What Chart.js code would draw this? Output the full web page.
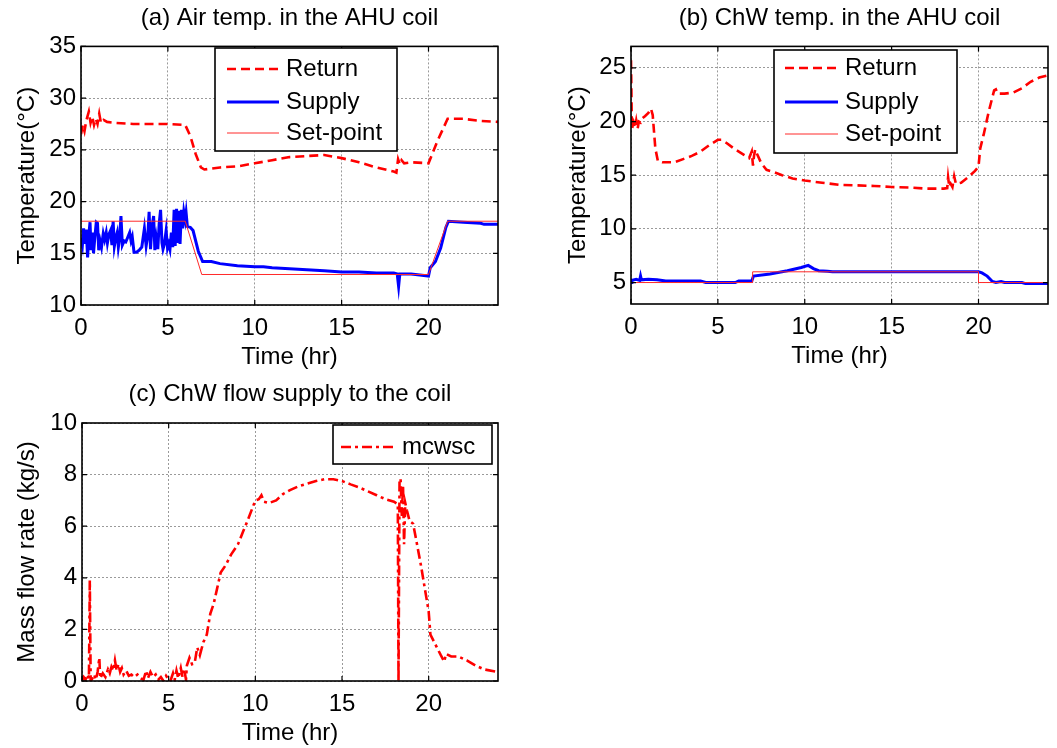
<!DOCTYPE html>
<html>
<head>
<meta charset="utf-8">
<script src="https://cdn.jsdelivr.net/npm/chart.js@4.4.1/dist/chart.umd.min.js"></script>
<style>
  html, body { margin: 0; padding: 0; background: #fff; }
  body { width: 1057px; height: 748px; position: relative; overflow: hidden; }
  .panel { position: absolute; }
</style>
</head>
<body>
<div class="panel" style="left:0;top:0;width:530px;height:375px"><canvas id="chartA"></canvas></div>
<div class="panel" style="left:530px;top:0;width:527px;height:375px"><canvas id="chartB"></canvas></div>
<div class="panel" style="left:0;top:375px;width:530px;height:373px"><canvas id="chartC"></canvas></div>
<script>
// ---- tick values ----
const timeTicks = [0, 5, 10, 15, 20];
const airTempTicks = [10, 15, 20, 25, 30, 35];
const chwTempTicks = [5, 10, 15, 20, 25];
const flowTicks = [0, 2, 4, 6, 8, 10];

// ---- (a) air temperatures in the AHU coil (time in hr, temperature in °C) ----
const airReturnTime = [0, 0.1, 0.2, 0.3, 0.45, 0.55, 0.65, 0.75, 0.85, 0.95, 1.05, 1.15, 1.3, 1.5, 2, 3, 4, 5, 6.0,
  6.3, 6.6, 6.9, 7.1, 8, 9, 10, 11, 12, 13, 14, 15, 16, 17, 18, 18.15, 18.25, 18.35, 18.45, 18.6, 19, 20,
  20.5, 21.1, 22, 23, 24];
const airReturnTemp = [26.5, 27.4, 26.8, 27.8, 28.7, 27.6, 28.2, 27.4, 28.0, 27.5, 28.5, 27.6, 27.9, 27.7, 27.6, 27.5, 27.5, 27.5, 27.4,
  26.3, 24.6, 23.3, 23.1, 23.3, 23.4, 23.7, 24.0, 24.3, 24.4, 24.5, 24.2, 23.8, 23.3, 22.9, 22.8, 24.1, 23.6, 24.0, 23.7, 23.8, 23.7,
  25.8, 28.0, 28.0, 27.8, 27.7];

const airSupplyTime = [0, 0.08, 0.15, 0.22, 0.3, 0.38, 0.45, 0.52, 0.58, 0.65, 0.72, 0.8, 0.88, 0.95, 1.02, 1.1, 1.18, 1.28,
  1.36, 1.45, 1.52, 1.6, 1.7, 1.78, 1.85, 1.92, 2.0, 2.08, 2.15, 2.22, 2.3, 2.38, 2.48, 2.58, 2.68, 2.8, 2.88, 2.95,
  3.05, 3.2, 3.35, 3.5, 3.65, 3.75, 3.85, 3.92, 4.0, 4.08, 4.18, 4.25, 4.33, 4.42, 4.5, 4.58, 4.66, 4.72, 4.8, 4.9,
  4.98, 5.05, 5.12, 5.2, 5.28, 5.36, 5.42, 5.5, 5.56, 5.62, 5.7, 5.78, 5.85, 5.92, 6.0, 6.05, 6.12, 6.3, 6.45, 6.75,
  7.0, 7.5, 8, 9, 10, 10.5, 11, 12, 13, 14, 15, 16, 17, 18, 18.2, 18.28, 18.35, 18.7, 19, 19.5, 20, 20.1, 20.4,
  20.7, 21.0, 21.15, 22, 23, 23.2, 24];
const airSupplyTemp = [16.5, 15.8, 17.4, 15.9, 17.3, 14.6, 16.8, 18.0, 15.3, 17.0, 15.0, 16.6, 18.0, 17.9, 15.3, 16.2, 15.6, 16.9,
  16.3, 17.0, 16.0, 16.8, 17.2, 15.8, 18.1, 15.7, 16.5, 17.0, 15.6, 16.4, 18.6, 15.8, 16.2, 16.1, 16.5, 17.0, 16.2, 16.6,
  15.1, 15.1, 15.3, 15.6, 17.4, 15.7, 16.8, 19.0, 15.4, 17.5, 18.6, 15.3, 16.5, 15.4, 17.9, 19.2, 16.0, 15.4, 15.9, 17.2,
  15.5, 15.9, 15.4, 17.0, 15.6, 19.2, 15.7, 19.3, 16.0, 19.1, 15.9, 19.2, 17.4, 19.0, 18.2, 18.9, 17.6, 17.5, 17.2, 15.2,
  14.2, 14.2, 14.0, 13.8, 13.7, 13.7, 13.6, 13.5, 13.4, 13.3, 13.2, 13.2, 13.1, 13.1, 13.0, 11.8, 13.0, 13.0, 13.0, 12.9, 12.8, 13.6, 14.2,
  15.5, 17.5, 18.1, 18.0, 17.9, 17.8, 17.8];

const airSetTime = [0, 6.0, 6.95, 20.0, 21.1, 24];
const airSetTemp = [18.1, 18.1, 12.95, 12.95, 18.1, 18.1];

// ---- (b) chilled-water temperatures in the AHU coil ----
const chwReturnTime = [0, 0.05, 0.15, 0.22, 0.3, 0.38, 0.45, 0.55, 0.65, 0.8, 1.0, 1.15, 1.25, 1.4, 1.55, 1.8, 2.5, 3.0, 3.5,
  4.0, 4.5, 5.0, 5.2, 5.5, 6.0, 6.5, 6.8, 6.95, 7.02, 7.08, 7.15, 7.25, 7.5, 7.8, 8.2, 8.7, 9.3, 10, 11, 12, 13, 14, 15,
  16, 17, 18, 18.2, 18.25, 18.32, 18.4, 18.5, 18.6, 18.7, 19.0, 19.4, 19.8, 20.0, 20.1, 20.3, 20.6, 20.9, 21.0, 21.1,
  21.5, 22.0, 22.5, 23.0, 23.5, 24];
const chwReturnTemp = [25.7, 19.3, 19.9, 19.4, 20.1, 19.3, 20.0, 19.9, 20.3, 20.5, 20.8, 21.2, 20.6, 17.5, 16.3, 16.2, 16.2, 16.5, 16.8,
  17.2, 17.8, 18.3, 18.3, 18.0, 17.4, 16.9, 16.6, 17.2, 15.9, 16.8, 17.4, 17.0, 16.1, 15.5, 15.3, 15.0, 14.7, 14.5, 14.3, 14.1, 14.05, 14.0, 13.9,
  13.85, 13.75, 13.75, 13.8, 14.8, 13.9, 14.2, 13.9, 14.9, 14.2, 14.3, 14.8, 15.4, 15.8, 17.5, 18.8, 21.0, 22.9, 23.0, 22.6,
  22.6, 22.7, 23.1, 23.7, 24.1, 24.3];

const chwSupplyTime = [0, 0.05, 0.3, 0.5, 0.55, 0.6, 1.0, 1.5, 2.0, 3.0, 4.0, 4.3, 5.0, 6.0, 6.2, 6.95, 7.05, 8.0, 9.0, 9.8,
  10.2, 10.5, 10.8, 11.3, 11.6, 20.0, 20.2, 20.5, 20.8, 21.0, 21.3, 21.5, 22.5, 22.7, 24];
const chwSupplyTemp = [5.0, 5.2, 5.3, 5.2, 5.6, 5.25, 5.3, 5.25, 5.15, 5.15, 5.15, 5.0, 5.0, 5.0, 5.15, 5.15, 5.6, 5.8, 6.1, 6.4,
  6.6, 6.3, 6.1, 6.05, 6.0, 6.0, 5.9, 5.6, 5.1, 5.0, 5.1, 5.0, 5.0, 4.9, 4.9];

const chwSetTime = [0, 7, 7, 20, 20, 24];
const chwSetTemp = [5, 5, 6, 6, 5, 5];

// ---- (c) chilled-water mass flow supplied to the coil (kg/s) ----
const flowTime = [0, 0.1, 0.2, 0.3, 0.4, 0.45, 0.5, 0.6, 0.7, 0.8, 0.9, 1.0, 1.05, 1.2, 1.35, 1.5, 1.6, 1.7, 1.8, 1.9,
  2.0, 2.1, 2.2, 2.3, 2.4, 2.55, 2.7, 2.85, 3.0, 3.2, 3.4, 3.55, 3.7, 3.8, 3.95, 4.1, 4.25, 4.4, 4.55, 4.7, 4.85, 5.0,
  5.1, 5.25, 5.35, 5.45, 5.55, 5.7, 5.8, 5.9, 6.0, 6.05, 6.2, 6.35, 6.5, 6.65, 6.8, 7.0, 7.2, 7.4, 7.6, 7.8, 8.0, 8.3,
  8.6, 9.0, 9.3, 9.6, 10.0, 10.2, 10.35, 10.5, 10.8, 11.2, 11.6, 12.0, 12.5, 13.0, 13.5, 14.0, 14.5, 15.0, 15.5, 16.0,
  16.5, 17.0, 17.5, 18.0, 18.22, 18.26, 18.32, 18.38, 18.45, 18.52, 18.58, 18.65, 18.75, 18.9, 19.1, 19.3, 19.55, 19.8,
  20.0, 20.1, 20.4, 20.7, 20.9, 21.0, 21.3, 21.7, 22.2, 22.7, 23.2, 24];
const flowRate = [0.0, 0.15, 0.05, 0.25, 0.1, 3.9, 0.0, 0.1, 0.25, 0.05, 0.35, 0.9, 0.1, 0.3, 0.15, 0.45, 0.3, 0.55, 0.4, 0.8,
  0.4, 0.65, 0.35, 0.5, 0.25, 0.4, 0.2, 0.25, 0.15, 0.25, 0.1, 0.05, 0.4, 0.1, 0.35, 0.15, 0.25, 0.05, 0.15, 0.0, 0.2, 0.05,
  0.0, 0.3, 0.05, 0.4, 0.1, 0.5, 0.15, 0.45, 0.05, 0.6, 0.9, 0.65, 0.7, 1.3, 1.0, 1.5, 1.8, 2.6, 3.0, 3.6, 4.2, 4.5,
  4.9, 5.3, 5.8, 6.3, 7.0, 7.05, 7.2, 6.95, 6.9, 7.0, 7.25, 7.4, 7.55, 7.65, 7.75, 7.82, 7.82, 7.75, 7.62, 7.5,
  7.35, 7.2, 7.05, 6.95, 6.85, 0.0, 7.8, 7.85, 6.4, 7.6, 5.3, 6.9, 6.6, 6.2, 6.1, 5.4, 4.5, 3.5,
  2.7, 1.8, 1.4, 1.0, 0.75, 1.05, 0.95, 0.95, 0.8, 0.6, 0.45, 0.35];

// ---- shared look ----
Chart.defaults.font.family = "'Liberation Sans', Arial, sans-serif";
Chart.defaults.color = '#000';
Chart.defaults.animation = false;

const RED = '#ff0000';
const BLUE = '#0000ff';
const GRID = '#9a9a9a';

function pairs(ts, vs) { return ts.map((t, i) => ({ x: t, y: vs[i] })); }

function timeAxis(axisHeight) {
  return {
    type: 'linear', min: 0, max: 24, bounds: 'data',
    afterBuildTicks(s) { s.ticks = timeTicks.map(v => ({ value: v })); },
    ticks: { padding: 9, maxRotation: 0, autoSkip: false, font: { size: 24 }, color: '#000' },
    grid: { color: GRID, lineWidth: 1, drawTicks: false },
    border: { display: false, dash: [2, 2] },
    title: { display: true, text: 'Time (hr)', font: { size: 24 }, color: '#000', padding: { top: 0, bottom: 0 } },
    afterFit(s) { s.height = axisHeight; }
  };
}

function valueAxis(min, max, tickValues, label, axisWidth) {
  return {
    type: 'linear', min: min, max: max, bounds: 'data',
    afterBuildTicks(s) { s.ticks = tickValues.map(v => ({ value: v })); },
    ticks: { padding: 5, autoSkip: false, font: { size: 24 }, color: '#000' },
    grid: { color: GRID, lineWidth: 1, drawTicks: false },
    border: { display: false, dash: [2, 2] },
    title: { display: true, text: label, font: { size: 24 }, color: '#000', padding: { top: 0, bottom: 0 } },
    afterFit(s) { s.width = axisWidth; }
  };
}

// axes box with small inward tick marks on all four sides
const frameTicks = {
  id: 'frameTicks',
  afterDatasetsDraw(chart) {
    const { ctx, chartArea: a, scales: { x, y } } = chart;
    ctx.save();
    ctx.strokeStyle = '#000';
    ctx.lineWidth = 1.2;
    const L = 5;
    ctx.beginPath();
    x.ticks.forEach(t => {
      const px = x.getPixelForValue(t.value);
      ctx.moveTo(px, a.bottom); ctx.lineTo(px, a.bottom - L);
      ctx.moveTo(px, a.top); ctx.lineTo(px, a.top + L);
    });
    y.ticks.forEach(t => {
      const py = y.getPixelForValue(t.value);
      ctx.moveTo(a.left, py); ctx.lineTo(a.left + L, py);
      ctx.moveTo(a.right, py); ctx.lineTo(a.right - L, py);
    });
    ctx.stroke();
    ctx.lineWidth = 1.6;
    ctx.strokeRect(a.left, a.top, a.right - a.left, a.bottom - a.top);
    ctx.restore();
  }
};

// boxed legend drawn inside the plot
const boxLegend = {
  id: 'boxLegend',
  afterDraw(chart, args, o) {
    const ctx = chart.ctx;
    ctx.save();
    ctx.fillStyle = '#fff';
    ctx.fillRect(o.x, o.y, o.w, o.h);
    ctx.strokeStyle = '#000';
    ctx.lineWidth = 1.6;
    ctx.strokeRect(o.x, o.y, o.w, o.h);
    chart.data.datasets.forEach((ds, i) => {
      const ry = o.rows[i];
      ctx.setLineDash(ds.borderDash || []);
      ctx.strokeStyle = ds.borderColor;
      ctx.lineWidth = ds.borderWidth;
      ctx.beginPath();
      ctx.moveTo(o.lineX1, ry);
      ctx.lineTo(o.lineX2, ry);
      ctx.stroke();
      ctx.setLineDash([]);
      ctx.fillStyle = '#000';
      ctx.font = "24px 'Liberation Sans', Arial, sans-serif";
      ctx.textBaseline = 'middle';
      ctx.textAlign = 'left';
      ctx.fillText(ds.label, o.textX, ry);
    });
    ctx.restore();
  }
};

function titleOpts(text, top, bottom) {
  return { display: true, text: text, fullSize: false, font: { size: 24, weight: 'normal' }, color: '#000',
           padding: { top: top, bottom: bottom } };
}

function lineSet(label, data, color, width, dash, order) {
  return { label: label, data: data, borderColor: color, backgroundColor: color, borderWidth: width,
           borderDash: dash, pointRadius: 0, tension: 0, fill: false, order: order };
}

// (a)
new Chart(document.getElementById('chartA'), {
  type: 'line',
  data: {
    datasets: [
      lineSet('Return', pairs(airReturnTime, airReturnTemp), RED, 2.6, [9, 5], 2),
      lineSet('Supply', pairs(airSupplyTime, airSupplyTemp), BLUE, 3, [], 1),
      lineSet('Set-point', pairs(airSetTime, airSetTemp), '#ff2a2a', 1, [], 0)
    ]
  },
  options: {
    responsive: true, maintainAspectRatio: false,
    layout: { padding: { left: 13, right: 32, top: 0, bottom: 3 } },
    scales: { x: timeAxis(67), y: valueAxis(10, 35, airTempTicks, 'Temperature(°C)', 68) },
    plugins: {
      legend: { display: false }, tooltip: { enabled: false },
      title: titleOpts('(a) Air temp. in the AHU coil', 3.6, 14),
      boxLegend: { x: 215, y: 48, w: 182, h: 103, rows: [69, 102, 133], lineX1: 227, lineX2: 279, textX: 286 }
    }
  },
  plugins: [frameTicks, boxLegend]
});

// (b)
new Chart(document.getElementById('chartB'), {
  type: 'line',
  data: {
    datasets: [
      lineSet('Return', pairs(chwReturnTime, chwReturnTemp), RED, 2.6, [9, 5], 2),
      lineSet('Supply', pairs(chwSupplyTime, chwSupplyTemp), BLUE, 3, [], 1),
      lineSet('Set-point', pairs(chwSetTime, chwSetTemp), '#ff2a2a', 1, [], 0)
    ]
  },
  options: {
    responsive: true, maintainAspectRatio: false,
    layout: { padding: { left: 34, right: 9, top: 0, bottom: 4 } },
    scales: { x: timeAxis(67), y: valueAxis(3, 27, chwTempTicks, 'Temperature(°C)', 67) },
    plugins: {
      legend: { display: false }, tooltip: { enabled: false },
      title: titleOpts('(b) ChW temp. in the AHU coil', 3.6, 14),
      boxLegend: { x: 244, y: 50, w: 183, h: 103, rows: [68, 102, 134], lineX1: 255, lineX2: 308, textX: 315 }
    }
  },
  plugins: [frameTicks, boxLegend]
});

// (c)
new Chart(document.getElementById('chartC'), {
  type: 'line',
  data: {
    datasets: [
      lineSet('mcwsc', pairs(flowTime, flowRate), RED, 2.6, [10, 4, 3, 4], 0)
    ]
  },
  options: {
    responsive: true, maintainAspectRatio: false,
    layout: { padding: { left: 13, right: 32, top: 0, bottom: 0 } },
    scales: { x: timeAxis(67), y: valueAxis(0, 10, flowTicks, 'Mass flow rate (kg/s)', 69) },
    plugins: {
      legend: { display: false }, tooltip: { enabled: false },
      title: titleOpts('(c) ChW flow supply to the coil', 4.6, 14.6),
      boxLegend: { x: 333, y: 50, w: 159, h: 39, rows: [72], lineX1: 341, lineX2: 396, textX: 402 }
    }
  },
  plugins: [frameTicks, boxLegend]
});
</script>
</body>
</html>
